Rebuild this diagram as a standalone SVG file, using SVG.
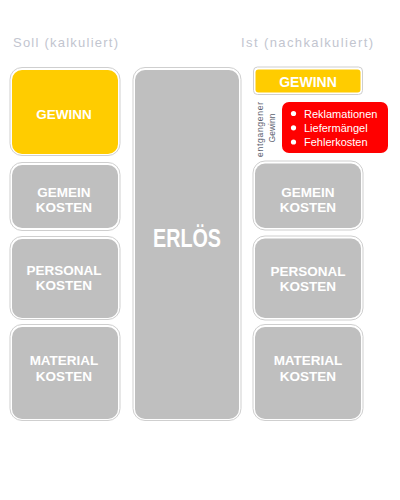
<svg xmlns="http://www.w3.org/2000/svg" width="400" height="500" viewBox="0 0 400 500">
<style>
.bg{fill:#ffffff}
.box{fill:#bfbfbf}
.gold{fill:#ffcc00}
.red{fill:#ff0000}
.ol{fill:none;stroke:#cfcfcf;stroke-width:1}
.lbl{font-family:"Liberation Sans",Arial,sans-serif;font-weight:bold;font-size:13.5px;fill:#ffffff;text-anchor:middle}
.big{font-family:"Liberation Sans",Arial,sans-serif;font-weight:bold;font-size:25px;fill:#ffffff;text-anchor:middle}
.hdr{font-family:"Liberation Sans",Arial,sans-serif;font-size:13px;fill:#c2c5cf}
.li{font-family:"Liberation Sans",Arial,sans-serif;font-size:11px;fill:#ffffff}
.vt{font-family:"Liberation Sans",Arial,sans-serif;font-size:8.5px;fill:#5c6270;text-anchor:middle}
</style>
<rect class="bg" x="0" y="0" width="400" height="500"/>
<g id="header-soll"><text class="hdr" x="13" y="47" textLength="105" lengthAdjust="spacing">Soll (kalkuliert)</text></g>
<g id="header-ist"><text class="hdr" x="241" y="47" textLength="132" lengthAdjust="spacing">Ist (nachkalkuliert)</text></g>

<g id="soll-gewinn">
<rect class="ol" x="10" y="67.5" width="110" height="88" rx="12"/>
<rect class="gold" x="12" y="70" width="106" height="84" rx="10"/>
<text class="lbl" x="64" y="119">GEWINN</text>
</g>
<g id="soll-gemein">
<rect class="ol" x="10" y="162.5" width="110" height="68" rx="12"/>
<rect class="box" x="12" y="165" width="106" height="63" rx="10"/>
<text class="lbl" x="64" y="197">GEMEIN</text>
<text class="lbl" x="64" y="212">KOSTEN</text>
</g>
<g id="soll-personal">
<rect class="ol" x="10" y="236.5" width="110" height="83" rx="12"/>
<rect class="box" x="12" y="239" width="106" height="79" rx="10"/>
<text class="lbl" x="64" y="275">PERSONAL</text>
<text class="lbl" x="64" y="290">KOSTEN</text>
</g>
<g id="soll-material">
<rect class="ol" x="10" y="324.5" width="110" height="96" rx="12"/>
<rect class="box" x="12" y="327" width="106" height="92" rx="10"/>
<text class="lbl" x="64" y="365">MATERIAL</text>
<text class="lbl" x="64" y="381">KOSTEN</text>
</g>
<g id="erloes">
<rect class="ol" x="133" y="67.5" width="108" height="353" rx="12"/>
<rect class="box" x="135" y="70" width="104" height="349" rx="10"/>
<text class="big" x="187" y="247" textLength="68" lengthAdjust="spacingAndGlyphs">ERLÖS</text>
</g>

<g id="ist-gewinn">
<rect class="ol" x="253.5" y="67" width="109" height="27.5" rx="4"/>
<rect class="gold" x="255.5" y="69.5" width="105" height="23" rx="3"/>
<text class="lbl" x="308" y="87" style="font-size:14px">GEWINN</text>
</g>
<g id="entgangener-gewinn">
<text class="vt" transform="translate(263,129.5) rotate(-90)" textLength="55" lengthAdjust="spacing">entgangener</text>
<text class="vt" transform="translate(275,128) rotate(-90)">Gewinn</text>
</g>
<g id="ist-fehler">
<rect class="red" x="282" y="102" width="106" height="51" rx="7"/>
<circle cx="293.5" cy="113.5" r="2.6" fill="#ffffff"/>
<text class="li" x="304" y="117.5">Reklamationen</text>
<circle cx="293.5" cy="127.8" r="2.6" fill="#ffffff"/>
<text class="li" x="304" y="131.8">Liefermängel</text>
<circle cx="293.5" cy="142" r="2.6" fill="#ffffff"/>
<text class="li" x="304" y="146">Fehlerkosten</text>
</g>
<g id="ist-gemein">
<rect class="ol" x="253" y="161" width="110" height="69" rx="12"/>
<rect class="box" x="255" y="163.5" width="106" height="64.5" rx="10"/>
<text class="lbl" x="308" y="197">GEMEIN</text>
<text class="lbl" x="308" y="212">KOSTEN</text>
</g>
<g id="ist-personal">
<rect class="ol" x="253" y="236" width="110" height="84" rx="12"/>
<rect class="box" x="255" y="238.5" width="106" height="79.5" rx="10"/>
<text class="lbl" x="308" y="276">PERSONAL</text>
<text class="lbl" x="308" y="291">KOSTEN</text>
</g>
<g id="ist-material">
<rect class="ol" x="253" y="324.5" width="110" height="96" rx="12"/>
<rect class="box" x="255" y="327" width="106" height="92" rx="10"/>
<text class="lbl" x="308" y="365">MATERIAL</text>
<text class="lbl" x="308" y="381">KOSTEN</text>
</g>
</svg>
